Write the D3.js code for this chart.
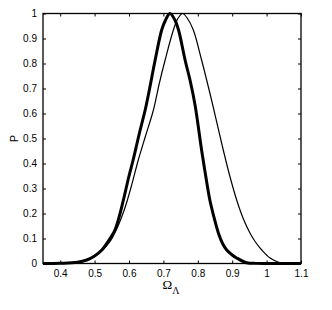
<!DOCTYPE html>
<html>
<head>
<meta charset="utf-8">
<script src="https://cdn.jsdelivr.net/npm/d3@7"></script>
<style>
  body { margin: 0; background: #fff; }
  .chartAxis text { font-family: "Liberation Sans", Arial, sans-serif; font-size: 10px; fill: #000; }
  .axisLabel { font-family: "Liberation Serif", "Times New Roman", serif; fill: #000; }
</style>
</head>
<body>
<div id="chart"></div>
<script>
// values
let xTicks = [0.4, 0.5, 0.6, 0.7, 0.8, 0.9, 1, 1.1];
let yTicks = [0, 0.1, 0.2, 0.3, 0.4, 0.5, 0.6, 0.7, 0.8, 0.9, 1];

let omegaThick = [0.35, 0.40, 0.45, 0.477, 0.50, 0.521, 0.54, 0.559, 0.572, 0.583, 0.60, 0.612, 0.63, 0.647, 0.66, 0.676,
  0.695, 0.705, 0.719, 0.733, 0.744, 0.763, 0.778, 0.792, 0.811, 0.823, 0.835, 0.848, 0.860, 0.872, 0.884, 0.90,
  0.913, 0.942, 0.97, 1.0, 1.1];
let probThick = [0, 0.001, 0.005, 0.014, 0.03, 0.054, 0.09, 0.134, 0.19, 0.25, 0.35, 0.414, 0.52, 0.614, 0.70, 0.814,
  0.934, 0.97, 1, 0.975, 0.934, 0.814, 0.73, 0.634, 0.454, 0.35, 0.254, 0.18, 0.121, 0.08, 0.054, 0.034,
  0.022, 0.003, 0.0005, 0, 0];

let omegaThin = [0.35, 0.40, 0.45, 0.478, 0.50, 0.523, 0.545, 0.563, 0.577, 0.590, 0.607, 0.627, 0.648, 0.671, 0.688, 0.705,
  0.729, 0.742, 0.756, 0.770, 0.787, 0.811, 0.840, 0.874, 0.893, 0.913, 0.932, 0.952, 0.968, 0.986, 1.010,
  1.039, 1.07, 1.1];
let probThin = [0, 0.001, 0.004, 0.013, 0.028, 0.054, 0.088, 0.134, 0.18, 0.23, 0.31, 0.414, 0.51, 0.614, 0.72, 0.814,
  0.934, 0.98, 1, 0.98, 0.934, 0.814, 0.654, 0.454, 0.35, 0.254, 0.18, 0.121, 0.085, 0.054, 0.022,
  0.003, 0, 0];

let margin = {top: 13.5, right: 31, bottom: 46.5, left: 43};
let width = 332 - margin.left - margin.right;
let height = 310 - margin.top - margin.bottom;

let x = d3.scaleLinear().domain([0.35, 1.1]).range([0, width]);
let y = d3.scaleLinear().domain([0, 1]).range([height, 0]);

let svg = d3.select('#chart').append('svg')
  .attr('width', 332)
  .attr('height', 310)
  .append('g')
  .attr('transform', `translate(${margin.left},${margin.top})`);

// curves
let line = d3.line()
  .x(d => x(d[0]))
  .y(d => Math.min(y(d[1]), height))
  .curve(d3.curveCatmullRom.alpha(0.5));

svg.append('path')
  .datum(d3.zip(omegaThin, probThin))
  .attr('fill', 'none')
  .attr('stroke', '#000')
  .attr('stroke-width', 1.2)
  .attr('d', line);

svg.append('path')
  .datum(d3.zip(omegaThick, probThick))
  .attr('fill', 'none')
  .attr('stroke', '#000')
  .attr('stroke-width', 3)
  .attr('d', line);

// axes, matlab style: inward ticks on all four sides
let tickLen = 3;
svg.append('g')
  .attr('class', 'chartAxis axisX')
  .attr('transform', `translate(0,${height})`)
  .call(d3.axisBottom(x).tickValues(xTicks).tickSizeInner(-tickLen).tickSizeOuter(0).tickPadding(6).tickFormat(d3.format('')))
  .call(g => g.select('.domain').remove());

svg.append('g')
  .attr('class', 'chartAxis axisY')
  .call(d3.axisLeft(y).tickValues(yTicks).tickSizeInner(-tickLen).tickSizeOuter(0).tickPadding(6).tickFormat(d3.format('')))
  .call(g => g.select('.domain').remove());

svg.append('g')
  .attr('class', 'chartAxis')
  .call(d3.axisTop(x).tickValues(xTicks).tickSizeInner(-tickLen).tickSizeOuter(0).tickFormat(''))
  .call(g => g.select('.domain').remove());

svg.append('g')
  .attr('class', 'chartAxis')
  .attr('transform', `translate(${width},0)`)
  .call(d3.axisRight(y).tickValues(yTicks).tickSizeInner(-tickLen).tickSizeOuter(0).tickFormat(''))
  .call(g => g.select('.domain').remove());

svg.selectAll('.tick line').attr('stroke', '#000');

// frame
svg.append('rect')
  .attr('x', 0)
  .attr('y', 0)
  .attr('width', width)
  .attr('height', height)
  .attr('fill', 'none')
  .attr('stroke', '#000')
  .attr('stroke-width', 1.3);

// axis labels
let xl = svg.append('text')
  .attr('class', 'axisLabel')
  .attr('x', width / 2 - 1)
  .attr('y', height + 25.5)
  .attr('text-anchor', 'middle')
  .style('font-size', '13px');
xl.append('tspan').text('Ω');
xl.append('tspan').attr('dy', 5).style('font-size', '10px').text('Λ');

svg.append('text')
  .attr('class', 'axisLabel')
  .attr('transform', `translate(${-25},${height / 2}) rotate(-90)`)
  .attr('text-anchor', 'middle')
  .style('font-family', '"Liberation Sans", Arial, sans-serif')
  .style('font-size', '11px')
  .text('P');
</script>
</body>
</html>
